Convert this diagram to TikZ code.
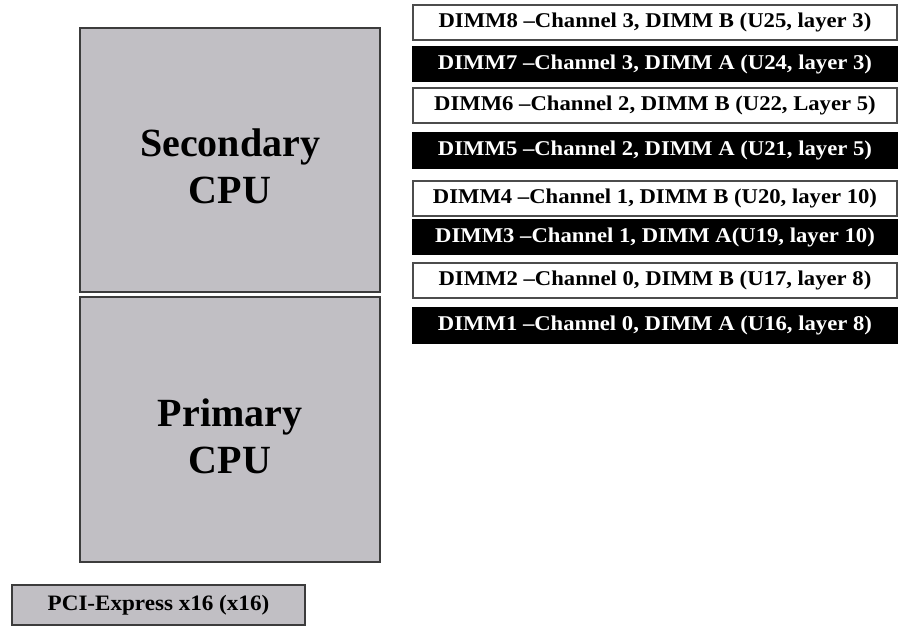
\documentclass[tikz,border=0pt]{standalone}
\usepackage{graphicx}
\usepackage{fontspec}
\setmainfont{Liberation Serif}
\definecolor{cpugray}{RGB}{193,191,196}
\definecolor{edgegray}{RGB}{60,60,60}
\newcommand{\dimmtxt}[1]{\scalebox{1.08}[1]{#1}}
\begin{document}
\begin{tikzpicture}[x=1pt,y=-1pt,
  cpu/.style={draw=edgegray, line width=2pt, fill=cpugray, minimum width=300pt,
    minimum height=264pt, inner sep=0pt, align=center,
    font=\fontsize{40}{47}\selectfont\bfseries},
  pcibox/.style={draw=edgegray, line width=1.8pt, fill=cpugray, minimum width=293pt,
    minimum height=40pt, inner sep=0pt, font=\fontsize{22}{22}\selectfont\bfseries},
  dimmw/.style={draw=black!70, line width=1.6pt, fill=white, minimum width=484pt,
    minimum height=35pt, inner sep=0pt, font=\fontsize{21}{21}\selectfont\bfseries},
  dimmb/.style={dimmw, draw=black, fill=black, text=white}]
\useasboundingbox (0,0) rectangle (898,628);
\fill[white] (0,0) rectangle (898,628);

\node[cpu] (sec) at (230,160) {\\[-6pt]Secondary\\CPU};
\node[cpu, minimum height=265pt] (pri) at (230,429.5) {\\[-6pt]Primary\\CPU};
\node[pcibox] (pci) at (158.5,605) {\scalebox{1.05}[1]{PCI-Express x16 (x16)}};

\node[dimmw] (d8) at (655,22.5) {\dimmtxt{DIMM8 –Channel 3, DIMM B (U25, layer 3)}};
\node[dimmb] (d7) at (655,64) {\dimmtxt{DIMM7 –Channel 3, DIMM A (U24, layer 3)}};
\node[dimmw] (d6) at (655,105.5) {\dimmtxt{DIMM6 –Channel 2, DIMM B (U22, Layer 5)}};
\node[dimmb] (d5) at (655,150.5) {\dimmtxt{DIMM5 –Channel 2, DIMM A (U21, layer 5)}};
\node[dimmw] (d4) at (655,198.5) {\dimmtxt{DIMM4 –Channel 1, DIMM B (U20, layer 10)}};
\node[dimmb] (d3) at (655,237) {\dimmtxt{DIMM3 –Channel 1, DIMM A(U19, layer 10)}};
\node[dimmw] (d2) at (655,280.5) {\dimmtxt{DIMM2 –Channel 0, DIMM B (U17, layer 8)}};
\node[dimmb] (d1) at (655,325.5) {\dimmtxt{DIMM1 –Channel 0, DIMM A (U16, layer 8)}};
\end{tikzpicture}
\end{document}
